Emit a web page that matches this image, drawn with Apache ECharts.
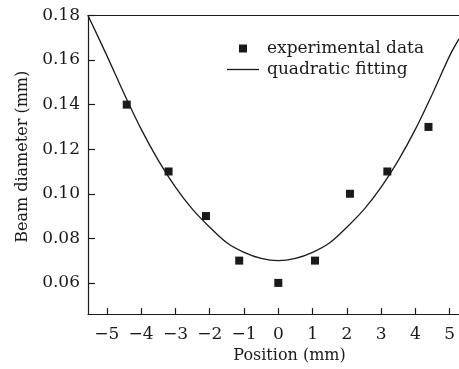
<!DOCTYPE html>
<html>
<head>
<meta charset="utf-8">
<script src="https://cdn.jsdelivr.net/npm/echarts@6/dist/echarts.min.js"></script>
<style>
  html, body { margin: 0; padding: 0; background: #fff; }
  #chart { width: 459px; height: 369px; }
</style>
</head>
<body>
<div id="chart"></div>
<script>
// measured points
const posX = [-4.42, -3.2, -2.11, -1.14, 0, 1.07, 2.09, 3.18, 4.38]
const diam = [0.14, 0.11, 0.09, 0.07, 0.06, 0.07, 0.10, 0.11, 0.13]

// fitted curve
const fitX = [-5.55, -5, -4.5, -4, -3.5, -3, -2.5, -2, -1.5, -1, -0.5, 0, 0.5, 1, 1.5, 2, 2.5, 3, 3.5, 4, 4.5, 5, 5.27]
const fitY = [0.180, 0.162, 0.145, 0.129, 0.115, 0.103, 0.093, 0.085, 0.078, 0.0737, 0.071, 0.070, 0.071, 0.0737, 0.078, 0.085, 0.093, 0.103, 0.115, 0.129, 0.145, 0.162, 0.1695]

const xTicks = [-5, -4, -3, -2, -1, 0, 1, 2, 3, 4, 5]
const yTicks = [0.06, 0.08, 0.10, 0.12, 0.14, 0.16, 0.18]

const font = 'DejaVu Serif'
const ink = '#1a1a1a'

const chart = echarts.init(document.getElementById('chart'))

chart.setOption({
    animation: false,
    grid: {
        left: 88,
        top: 15.5,
        right: 0,
        bottom: 51
    },
    legend: {
        orient: 'vertical',
        left: 222,
        top: 35,
        itemWidth: 32,
        itemHeight: 8,
        itemGap: 4,
        symbolKeepAspect: true,
        data: [
            { name: 'experimental data', icon: 'path://M0 0H10V10H0Z' },
            { name: 'quadratic fitting', icon: 'path://M0 0H32V1.3H0Z' }
        ],
        textStyle: {
            fontFamily: font,
            fontSize: 17,
            color: ink,
            lineHeight: 16,
            padding: [0, 0, 0, 3]
        }
    },
    xAxis: [
        {
            type: 'value',
            min: -5.55,
            max: 5.27,
            name: 'Position (mm)',
            nameLocation: 'middle',
            nameGap: 25,
            nameTextStyle: {
                fontFamily: font,
                fontSize: 16,
                color: ink,
                padding: [0, 0, 0, 32]
            },
            axisLine: { onZero: false, lineStyle: { color: ink, width: 1.2 } },
            axisTick: {
                inside: true,
                length: 6,
                customValues: xTicks,
                lineStyle: { color: ink, width: 1.2 }
            },
            axisLabel: {
                customValues: xTicks,
                margin: 12,
                fontFamily: font,
                fontSize: 17,
                color: ink,
                formatter: v => (v < 0 ? '\u2212' + Math.abs(v) : String(v))
            },
            splitLine: { show: false }
        },
        {
            type: 'value',
            position: 'top',
            min: -5.55,
            max: 5.27,
            axisLine: { onZero: false, lineStyle: { color: ink, width: 1.2 } },
            axisTick: { show: false },
            axisLabel: { show: false },
            splitLine: { show: false }
        }
    ],
    yAxis: {
        type: 'value',
        min: 0.046,
        max: 0.18,
        name: 'Beam diameter (mm)',
        nameLocation: 'middle',
        nameGap: 55,
        nameTextStyle: {
            fontFamily: font,
            fontSize: 16,
            color: ink,
            padding: [0, 0, 0, 16]
        },
        axisLine: { show: true, onZero: false, lineStyle: { color: ink, width: 1.2 } },
        axisTick: {
            show: true,
            inside: true,
            length: 7,
            customValues: yTicks,
            lineStyle: { color: ink, width: 1.2 }
        },
        axisLabel: {
            customValues: yTicks,
            margin: 8,
            fontFamily: font,
            fontSize: 17,
            color: ink,
            formatter: v => v.toFixed(2)
        },
        splitLine: { show: false }
    },
    series: [
        {
            name: 'experimental data',
            type: 'scatter',
            symbol: 'rect',
            symbolSize: 8,
            itemStyle: { color: ink, opacity: 1 },
            data: posX.map((x, i) => [x, diam[i]])
        },
        {
            name: 'quadratic fitting',
            type: 'line',
            smooth: 0.35,
            showSymbol: false,
            symbol: 'none',
            lineStyle: { color: ink, width: 1.3 },
            itemStyle: { color: ink },
            data: fitX.map((x, i) => [x, fitY[i]])
        }
    ]
})
</script>
</body>
</html>
